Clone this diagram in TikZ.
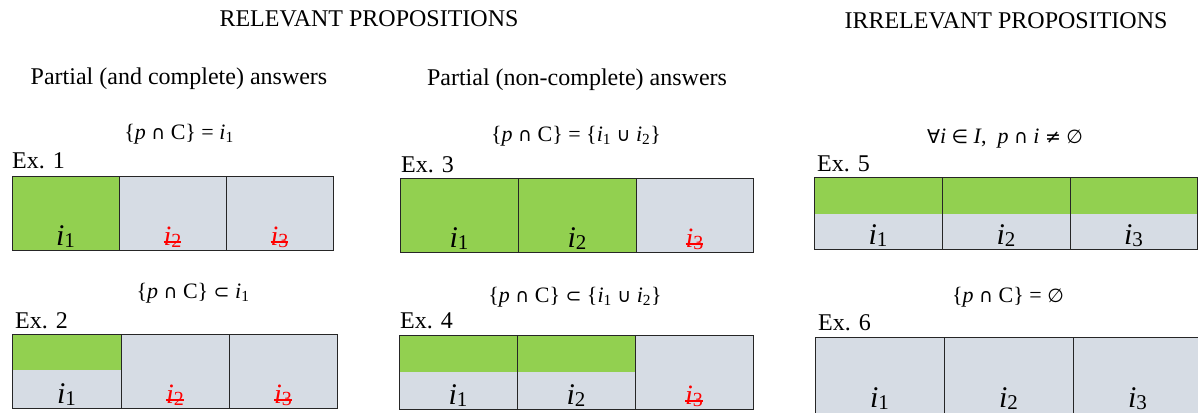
\documentclass[tikz,border=0pt]{standalone}
\usepackage{fontspec}
\setmainfont{Liberation Serif}
\newfontfamily\symf{DejaVu Sans}
\definecolor{pgreen}{HTML}{92D050}
\definecolor{pgray}{HTML}{D6DCE4}
\definecolor{edgec}{HTML}{262626}
\newcommand\blab[1]{{\fontsize{30}{30}\selectfont\textit{i}\raisebox{-2pt}{\fontsize{21}{21}\selectfont #1}}}
\newcommand\rlab[1]{\textcolor{red}{\setbox0\hbox{\fontsize{28}{28}\selectfont\textit{i}\raisebox{-2pt}{\fontsize{20}{20}\selectfont #1}}\rlap{\rule[2.5pt]{\wd0}{1.1pt}}\box0}}
\newcommand\sub[1]{\textsubscript{#1}}
\newcommand\sy[1]{{\symf\fontsize{19}{22}\selectfont #1}}
\tikzset{
  head/.style={font=\fontsize{24}{26}\selectfont, anchor=base, inner sep=0pt},
  exlab/.style={font=\fontsize{24}{26}\selectfont, anchor=base west, inner sep=0pt},
  formula/.style={font=\fontsize{22}{24}\selectfont, anchor=base, inner sep=0pt},
  lab/.style={anchor=base, inner sep=0pt},
  cellline/.style={draw=edgec, line width=1pt},
}
\begin{document}
\begin{tikzpicture}[x=1pt,y=-1pt]
\useasboundingbox (0,0) rectangle (1198,412);
% headers
\node[head] (h1) at (369,27) {RELEVANT PROPOSITIONS};
\node[head] (h2) at (1006,29) {IRRELEVANT PROPOSITIONS};
\node[head] (s1) at (179,84) {Partial (and complete) answers};
\node[head] (s2) at (577,85) {Partial (non-complete) answers};
% formulas
\node[formula] (f1) at (179,139) {\{\textit{p} \sy{∩} C\} = \textit{i}\sub{1}};
\node[formula] (f2) at (193,298) {\{\textit{p} \sy{∩} C\} \sy{⊂} \textit{i}\sub{1}};
\node[formula] (f3) at (576,141) {\{\textit{p} \sy{∩} C\} = \{\textit{i}\sub{1} \sy{∪} \textit{i}\sub{2}\}};
\node[formula] (f4) at (575,302) {\{\textit{p} \sy{∩} C\} \sy{⊂} \{\textit{i}\sub{1} \sy{∪} \textit{i}\sub{2}\}};
\node[formula] (f5) at (1005,143) {\sy{∀}\textit{i} \sy{∈} \textit{I},\ \ \textit{p} \sy{∩} \textit{i} \sy{≠} \sy{∅}};
\node[formula] (f6) at (1008,302) {\{\textit{p} \sy{∩} C\} = \sy{∅}};
% Ex labels
\node[exlab] (e1) at (12,168) {Ex. 1};
\node[exlab] (e2) at (15,328) {Ex. 2};
\node[exlab] (e3) at (401,172) {Ex. 3};
\node[exlab] (e4) at (400,328) {Ex. 4};
\node[exlab] (e5) at (817,171) {Ex. 5};
\node[exlab] (e6) at (818,330) {Ex. 6};
% Ex 1
\fill[pgreen] (12,176) rectangle (119,250);
\fill[pgray] (119,176) rectangle (333,250);
\draw[cellline] (12,176) rectangle (333,250) (119,176) -- (119,250) (226,176) -- (226,250);
\node[lab] (l11) at (65.5,245) {\blab{1}};
\node[lab] (l12) at (172.5,245) {\rlab{2}};
\node[lab] (l13) at (279.5,245) {\rlab{3}};
% Ex 2
\fill[pgray] (12,334) rectangle (337,408);
\fill[pgreen] (12,334) rectangle (121,370);
\draw[cellline] (12,334) rectangle (337,408) (121,334) -- (121,408) (229,334) -- (229,408);
\node[lab] (l21) at (66.5,403) {\blab{1}};
\node[lab] (l22) at (175,403) {\rlab{2}};
\node[lab] (l23) at (283,403) {\rlab{3}};
% Ex 3
\fill[pgreen] (400,178) rectangle (636,252);
\fill[pgray] (636,178) rectangle (753,252);
\draw[cellline] (400,178) rectangle (753,252) (518,178) -- (518,252) (636,178) -- (636,252);
\node[lab] (l31) at (459,247) {\blab{1}};
\node[lab] (l32) at (577,247) {\blab{2}};
\node[lab] (l33) at (694.5,247) {\rlab{3}};
% Ex 4
\fill[pgray] (399,335) rectangle (753,409);
\fill[pgreen] (399,335) rectangle (635,372);
\draw[cellline] (399,335) rectangle (753,409) (517,335) -- (517,409) (635,335) -- (635,409);
\node[lab] (l41) at (458,404) {\blab{1}};
\node[lab] (l42) at (576,404) {\blab{2}};
\node[lab] (l43) at (694,404) {\rlab{3}};
% Ex 5
\fill[pgray] (814,177) rectangle (1197,249);
\fill[pgreen] (814,177) rectangle (1197,214);
\draw[cellline] (814,177) rectangle (1197,249) (942,177) -- (942,249) (1070,177) -- (1070,249);
\node[lab] (l51) at (878,244) {\blab{1}};
\node[lab] (l52) at (1006,244) {\blab{2}};
\node[lab] (l53) at (1133.5,244) {\blab{3}};
% Ex 6
\fill[pgray] (815,337) rectangle (1202,420);
\draw[cellline] (815,337) rectangle (1202,420) (944,337) -- (944,420) (1073,337) -- (1073,420);
\node[lab] (l61) at (879.5,407) {\blab{1}};
\node[lab] (l62) at (1008.5,407) {\blab{2}};
\node[lab] (l63) at (1137.5,407) {\blab{3}};
\end{tikzpicture}
\end{document}
